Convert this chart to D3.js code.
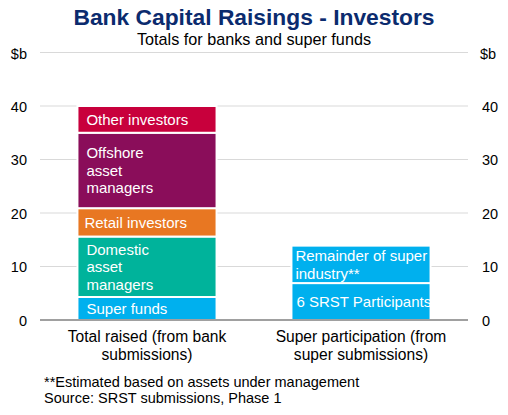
<!DOCTYPE html>
<html><head><meta charset="utf-8">
<script src="https://cdn.jsdelivr.net/npm/d3@7"></script>
<style>
html,body{margin:0;padding:0;background:#fff;}
svg{display:block;font-family:"Liberation Sans",Arial,sans-serif;}
</style></head>
<body><svg id="c" width="508" height="415"></svg>
<script>
const categories = ["Total raised (from bank submissions)", "Super participation (from super submissions)"];
const categoryLines = [["Total raised (from bank", "submissions)"], ["Super participation (from", "super submissions)"]];
const bankSegments = ["Super funds", "Domestic asset managers", "Retail investors", "Offshore asset managers", "Other investors"];
const bankValues = [4.3, 11.3, 5.3, 14.1, 5.0];
const bankLabelLines = [["Super funds"], ["Domestic", "asset", "managers"], ["Retail investors"], ["Offshore", "asset", "managers"], ["Other investors"]];
const superSegments = ["6 SRST Participants", "Remainder of super industry**"];
const superValues = [6.9, 7.0];
const superLabelLines = [["6 SRST Participants"], ["Remainder of super", "industry**"]];
const yTicks = [0, 10, 20, 30, 40];
const yMax = 50;
const title = "Bank Capital Raisings - Investors";
const subtitle = "Totals for banks and super funds";
const unit = "$b";
const footnotes = ["**Estimated based on assets under management", "Source: SRST submissions, Phase 1"];

const bankColors = ["#00B0EE", "#00B39B", "#E87722", "#8A0D5A", "#C8003C"];
const superColors = ["#00B0EE", "#00B0EE"];

const svg = d3.select("#c");
const L = 40, R = 468, T = 52.5, B = 320;
const x = d3.scaleBand().domain(categories).range([L, R]).paddingInner(0.35).paddingOuter(0.175);
const y = d3.scaleLinear().domain([0, yMax]).range([B, T]);

// gridlines
svg.append("g").selectAll("line").data([10, 20, 30, 40, 50]).join("line")
  .attr("x1", L).attr("x2", R).attr("y1", d => y(d)).attr("y2", d => y(d))
  .attr("stroke", "#d9d9d9").attr("stroke-width", 1);

// axes
const leftAxis = d3.axisLeft(y).tickValues(yTicks).tickSize(0).tickPadding(0);
const gl = svg.append("g").attr("transform", "translate(27,0)").call(leftAxis);
const rightAxis = d3.axisRight(y).tickValues(yTicks).tickSize(0).tickPadding(0);
const gr = svg.append("g").attr("transform", "translate(482,0)").call(rightAxis);
[gl, gr].forEach(g => {
  g.select(".domain").remove();
  g.selectAll("text").attr("font-size", 14.5).attr("fill", "#000").attr("font-family", "Liberation Sans, Arial, sans-serif").attr("dy", "0.36em");
});

// stacked bars
function stack(values) {
  let acc = 0;
  return values.map(v => { const s = {y0: acc, y1: acc + v}; acc += v; return s; });
}
const series = [
  {cat: categories[0], segs: stack(bankValues), colors: bankColors, labels: bankLabelLines, pad: [9, 9, 7, 9, 9]},
  {cat: categories[1], segs: stack(superValues), colors: superColors, labels: superLabelLines, pad: [5, 4]}
];
const lh = 17.5;
series.forEach(s => {
  const g = svg.append("g");
  g.selectAll("rect").data(s.segs).join("rect")
    .attr("x", x(s.cat)).attr("width", x.bandwidth())
    .attr("y", d => y(d.y1)).attr("height", d => y(d.y0) - y(d.y1))
    .attr("fill", (d, i) => s.colors[i])
    .attr("stroke", "#fff").attr("stroke-width", 2);
  s.segs.forEach((d, i) => {
    const lines = s.labels[i];
    const cy = (y(d.y0) + y(d.y1)) / 2;
    const t = g.append("text").attr("fill", "#fff").attr("font-size", 15)
      .attr("x", x(s.cat) + s.pad[i]);
    lines.forEach((ln, k) => {
      t.append("tspan").attr("x", x(s.cat) + s.pad[i])
        .attr("y", cy + (k - (lines.length - 1) / 2) * lh + 5.4).text(ln);
    });
  });
});

// zero line
svg.append("line").attr("x1", L).attr("x2", R).attr("y1", y(0)).attr("y2", y(0))
  .attr("stroke", "#808080").attr("stroke-width", 1.5);

// category labels
categories.forEach((c, i) => {
  const t = svg.append("text").attr("text-anchor", "middle").attr("font-size", 15.6).attr("fill", "#000");
  categoryLines[i].forEach((ln, k) => {
    t.append("tspan").attr("x", x(c) + x.bandwidth() / 2).attr("y", 342 + k * 17.5).text(ln);
  });
});

// units
svg.append("text").attr("x", 27).attr("y", 59).attr("text-anchor", "end").attr("font-size", 14.5).text(unit);
svg.append("text").attr("x", 480).attr("y", 59).attr("font-size", 14.5).text(unit);

// titles
svg.append("text").attr("x", 254).attr("y", 25).attr("text-anchor", "middle")
  .attr("font-size", 22.8).attr("font-weight", "bold").attr("fill", "#0B2B6E").text(title);
svg.append("text").attr("x", 254).attr("y", 44.5).attr("text-anchor", "middle")
  .attr("font-size", 16.2).attr("fill", "#000").text(subtitle);

// footnotes
footnotes.forEach((f, i) => {
  svg.append("text").attr("x", 44).attr("y", 387 + i * 16).attr("font-size", 14.5).attr("fill", "#000").text(f);
});
</script></body></html>
